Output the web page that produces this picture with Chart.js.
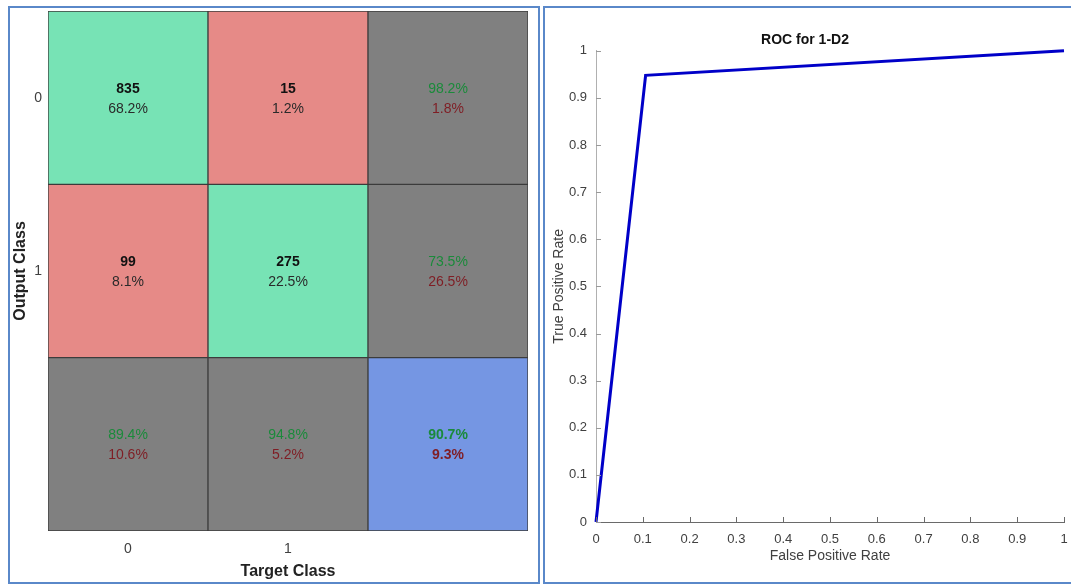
<!DOCTYPE html>
<html>
<head>
<meta charset="utf-8">
<script src="https://cdn.jsdelivr.net/npm/chart.js@4/dist/chart.umd.min.js"></script>
<style>
  html, body { margin: 0; padding: 0; background: #fff; width: 1071px; height: 585px; overflow: hidden; }
  .panel { position: absolute; box-sizing: border-box; border: 2px solid #5a88c9; }
  canvas { position: absolute; }
</style>
</head>
<body>
<div class="panel" style="left:8px;top:6px;width:532px;height:578px"></div>
<div class="panel" style="left:543px;top:6px;width:540px;height:578px"></div>
<canvas id="cm" width="528" height="574" style="left:10px;top:8px"></canvas>
<canvas id="roc" width="525" height="574" style="left:546px;top:8px"></canvas>
<script>
// Confusion matrix: rows = output class, columns = target class
const classLabels = ['0', '1'];
const targetTickLabels = ['0', '1', ''];
const countsOutput0 = [835, 15];
const countsOutput1 = [99, 275];

// ROC curve points
const rocFpr = [0, 0.106, 1];
const rocTpr = [0, 0.948, 1];
const rateTicks = [0, 0.1, 0.2, 0.3, 0.4, 0.5, 0.6, 0.7, 0.8, 0.9, 1];
const rateTickLabels = ['0', '0.1', '0.2', '0.3', '0.4', '0.5', '0.6', '0.7', '0.8', '0.9', '1'];

Chart.defaults.font.family = '"Liberation Sans", Arial, sans-serif';

const COLORS = {
  correct: '#77e3b5',
  wrong: '#e68a87',
  summary: '#808080',
  overall: '#7596e3',
  green: '#1a8a3a',
  red: '#7f1d24',
  cellLine: '#3c3c3c'
};

const counts = [countsOutput0, countsOutput1];
const total = counts.flat().reduce((a, b) => a + b, 0);
const pct = v => (100 * v).toFixed(1) + '%';

// Text for each cell: [row][col] -> {lines, colors, bold}
function cellText(r, c) {
  if (r < 2 && c < 2) {
    return { lines: [String(counts[r][c]), pct(counts[r][c] / total)], colors: ['#111', '#2a2a2a'], bold: [true, false] };
  }
  let ok;
  if (r < 2 && c === 2) {
    ok = counts[r][r] / (counts[r][0] + counts[r][1]);
  } else if (r === 2 && c < 2) {
    ok = counts[c][c] / (counts[0][c] + counts[1][c]);
  } else {
    ok = (counts[0][0] + counts[1][1]) / total;
  }
  const bold = r === 2 && c === 2;
  return { lines: [pct(ok), pct(1 - ok)], colors: [COLORS.green, COLORS.red], bold: [bold, bold] };
}

function cellColor(r, c) {
  if (r === 2 && c === 2) return COLORS.overall;
  if (r === 2 || c === 2) return COLORS.summary;
  return r === c ? COLORS.correct : COLORS.wrong;
}

const cmDatasets = [0, 1, 2].map(r => ({
  data: [0, 1, 2].map(() => [r, r + 1]),
  backgroundColor: [0, 1, 2].map(c => cellColor(r, c)),
  borderColor: COLORS.cellLine,
  borderWidth: 1,
  borderSkipped: false,
  grouped: false,
  categoryPercentage: 1,
  barPercentage: 1
}));

const cellLabels = {
  id: 'cellLabels',
  afterDatasetsDraw(chart) {
    const { ctx, scales: { x, y } } = chart;
    ctx.save();
    ctx.textAlign = 'center';
    ctx.textBaseline = 'middle';
    for (let r = 0; r < 3; r++) {
      for (let c = 0; c < 3; c++) {
        const t = cellText(r, c);
        const cx = x.getPixelForValue(c);
        const cy = y.getPixelForValue(r + 0.5);
        t.lines.forEach((s, i) => {
          ctx.font = (t.bold[i] ? 'bold ' : '') + '14px "Liberation Sans", Arial, sans-serif';
          ctx.fillStyle = t.colors[i];
          ctx.fillText(s, cx, cy + (i === 0 ? -9 : 11));
        });
      }
    }
    ctx.restore();
  }
};

new Chart(document.getElementById('cm'), {
  type: 'bar',
  data: { labels: targetTickLabels, datasets: cmDatasets },
  options: {
    responsive: false,
    animation: false,
    layout: { padding: { top: 3, right: 10, left: 0, bottom: 0 } },
    plugins: { legend: { display: false }, tooltip: { enabled: false } },
    scales: {
      x: {
        type: 'category',
        grid: { display: false, drawTicks: false },
        border: { display: false },
        ticks: { color: '#404040', font: { size: 14 }, padding: 10 },
        title: { display: true, text: 'Target Class', color: '#222', font: { size: 16, weight: 'bold' }, padding: { top: 0, bottom: 1 } },
        afterFit(s) { s.height = 51; s.paddingLeft = 0; s.paddingRight = 0; }
      },
      y: {
        type: 'linear',
        min: 0,
        max: 3,
        reverse: true,
        grid: { display: false, drawTicks: false },
        border: { display: false },
        afterBuildTicks(s) { s.ticks = [{ value: 0.5 }, { value: 1.5 }]; },
        ticks: { color: '#404040', font: { size: 14 }, padding: 6, callback: v => classLabels[Math.floor(v)] },
        title: { display: true, text: 'Output Class', color: '#222', font: { size: 16, weight: 'bold' }, padding: { top: 1, bottom: 0 } },
        afterFit(s) { s.width = 38; s.paddingTop = 0; s.paddingBottom = 0; }
      }
    }
  },
  plugins: [cellLabels]
});

// Short tick marks pointing into the plot area
const inwardTicks = {
  id: 'inwardTicks',
  afterDraw(chart) {
    const { ctx, scales: { x, y } } = chart;
    ctx.save();
    ctx.lineWidth = 1;
    ctx.strokeStyle = '#6a6a6a';
    x.ticks.forEach(t => {
      const px = Math.round(x.getPixelForValue(t.value)) + 0.5;
      ctx.beginPath();
      ctx.moveTo(px, y.bottom);
      ctx.lineTo(px, y.bottom - 5);
      ctx.stroke();
    });
    ctx.strokeStyle = '#9a9a9a';
    y.ticks.forEach(t => {
      const py = Math.round(y.getPixelForValue(t.value)) + 0.5;
      ctx.beginPath();
      ctx.moveTo(x.left, py);
      ctx.lineTo(x.left + 5, py);
      ctx.stroke();
    });
    ctx.restore();
  }
};

new Chart(document.getElementById('roc'), {
  type: 'scatter',
  data: {
    datasets: [{
      data: rocFpr.map((v, i) => ({ x: v, y: rocTpr[i] })),
      showLine: true,
      borderColor: '#0000c8',
      borderWidth: 3,
      pointRadius: 0,
      tension: 0,
      clip: false
    }]
  },
  options: {
    responsive: false,
    animation: false,
    layout: { padding: { top: 0, right: 7, left: 0, bottom: 0 } },
    plugins: {
      legend: { display: false },
      tooltip: { enabled: false },
      title: { display: true, text: 'ROC for 1-D2', color: '#111', font: { size: 14, weight: 'bold' }, padding: { top: 24, bottom: 2 } }
    },
    scales: {
      x: {
        type: 'linear',
        min: 0,
        max: 1,
        afterBuildTicks(s) { s.ticks = rateTicks.map(v => ({ value: v })); },
        ticks: { color: '#404040', font: { size: 13 }, padding: 10, maxRotation: 0, autoSkip: false, callback: (v, i) => rateTickLabels[i] },
        grid: { display: true, drawOnChartArea: false, drawTicks: false },
        border: { display: true, color: '#6a6a6a', width: 1 },
        title: { display: true, text: 'False Positive Rate', color: '#404040', font: { size: 14 }, padding: { top: 0, bottom: 17 } },
        afterFit(s) { s.height = 60; s.paddingLeft = 0; s.paddingRight = 0; }
      },
      y: {
        type: 'linear',
        min: 0,
        max: 1,
        afterBuildTicks(s) { s.ticks = rateTicks.map(v => ({ value: v })); },
        ticks: { color: '#404040', font: { size: 13 }, padding: 9, autoSkip: false, callback: (v, i) => rateTickLabels[i] },
        grid: { display: true, drawOnChartArea: false, drawTicks: false },
        border: { display: true, color: '#b0b0b0', width: 1 },
        title: { display: true, text: 'True Positive Rate', color: '#404040', font: { size: 14 }, padding: { top: 5, bottom: 0 } },
        afterFit(s) { s.width = 50; }
      }
    }
  },
  plugins: [inwardTicks]
});
</script>
</body>
</html>
